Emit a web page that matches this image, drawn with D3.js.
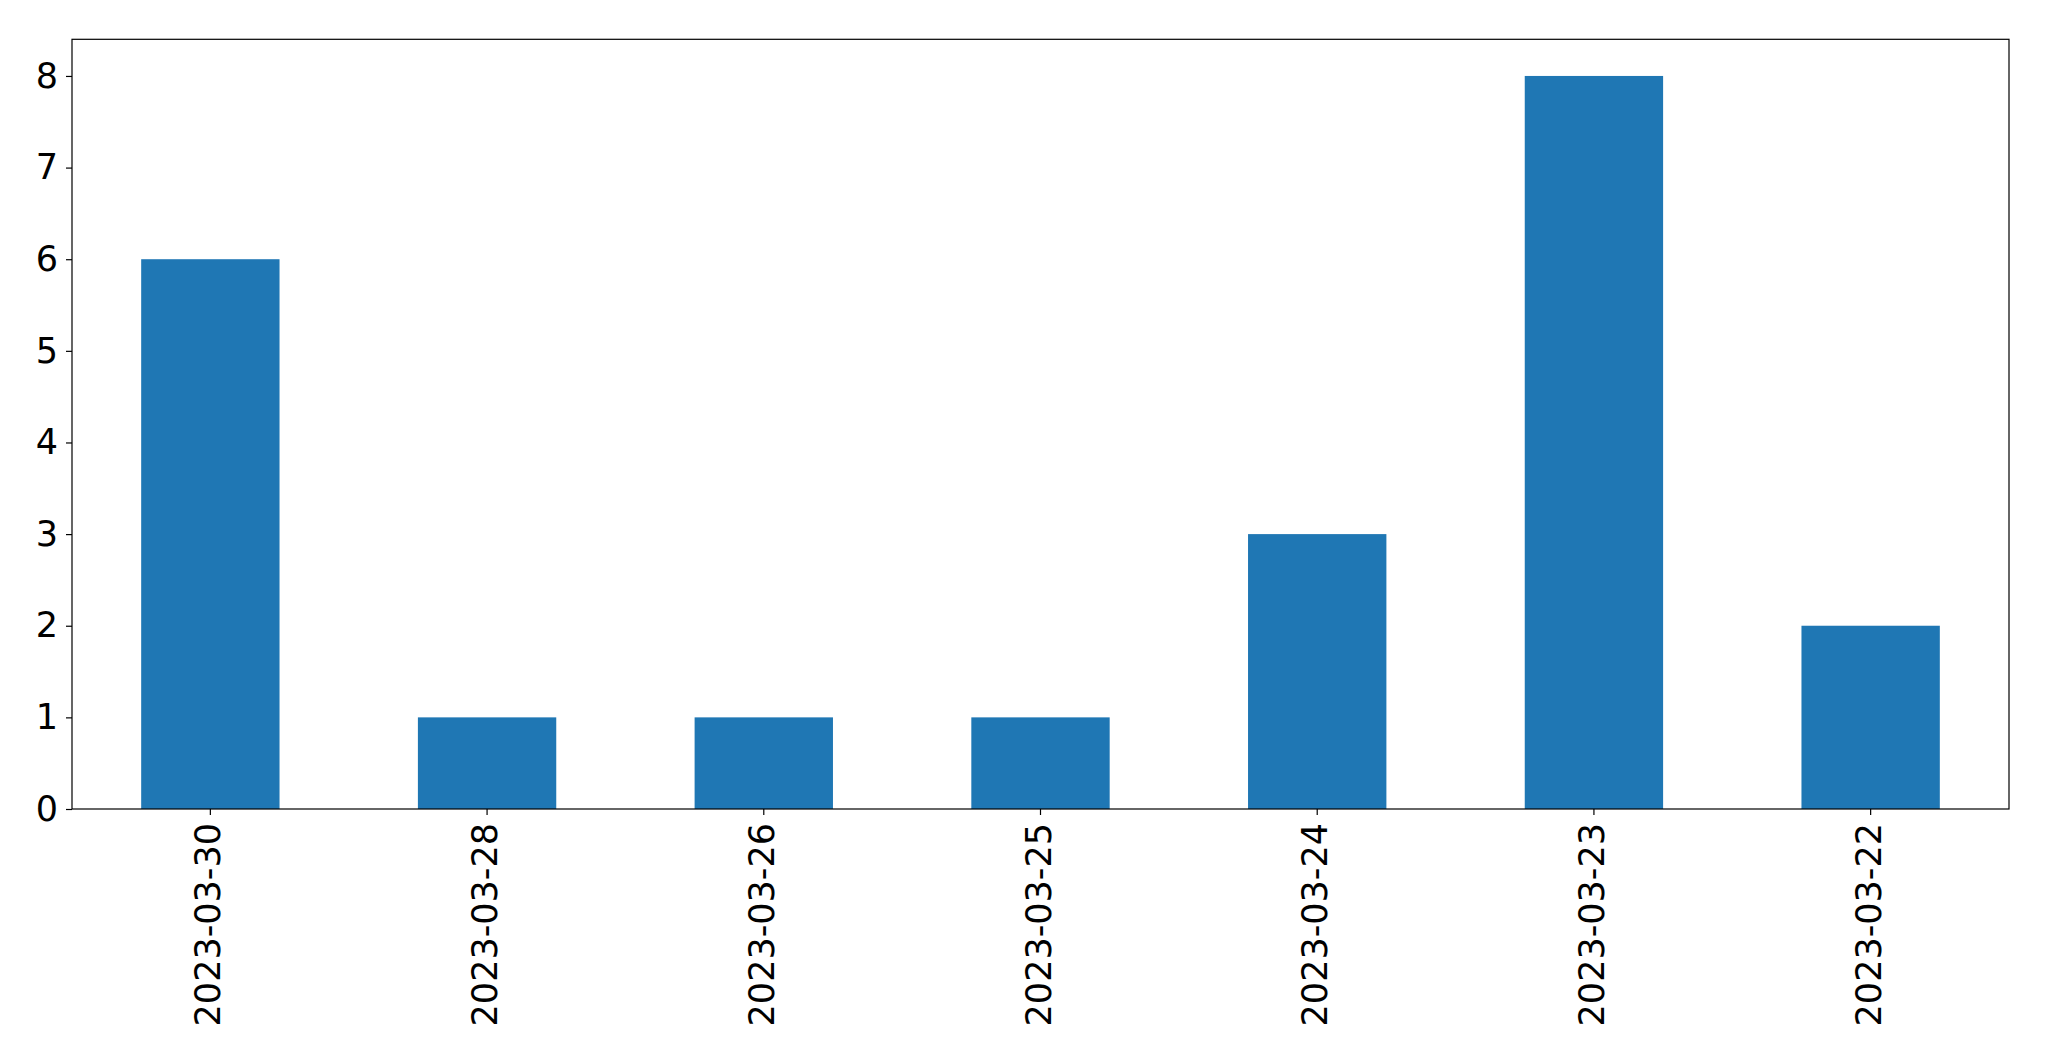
<!DOCTYPE html>
<html><head><meta charset="utf-8">
<script src="https://cdn.jsdelivr.net/npm/d3@7"></script>
<style>body{margin:0;background:#fff}svg{display:block}</style>
</head><body>
<script>
const categories = ["2023-03-30","2023-03-28","2023-03-26","2023-03-25","2023-03-24","2023-03-23","2023-03-22"];
const values = [6, 1, 1, 1, 3, 8, 2];
const yTicks = [0,1,2,3,4,5,6,7,8];

const W = 2049, H = 1061;
const m = {left: 72, right: 2009, top: 39.3, bottom: 809};
const svg = d3.select("body").append("svg").attr("width", W).attr("height", H);

const x = d3.scaleBand().domain(categories).range([m.left, m.right]).paddingInner(0.5).paddingOuter(0.25);
const y = d3.scaleLinear().domain([0, 8.4]).range([m.bottom, m.top]);

svg.append("g").selectAll("rect").data(values).join("rect")
  .attr("x", (d,i) => x(categories[i]))
  .attr("width", x.bandwidth())
  .attr("y", d => y(d))
  .attr("height", d => y(0) - y(d))
  .attr("fill", "#1f77b4");

const font = "DejaVu Sans";
const yAxis = svg.append("g").attr("transform", `translate(${m.left},0)`)
  .call(d3.axisLeft(y).tickValues(yTicks).tickSize(6).tickPadding(8).tickFormat(d3.format("d")));
yAxis.select(".domain").remove();
yAxis.selectAll("text").attr("font-family", font).attr("font-size", 35).attr("fill", "#000");
yAxis.selectAll("line").attr("stroke", "#000").attr("stroke-width", 1.2);

const xAxis = svg.append("g").attr("transform", `translate(0,${m.bottom})`)
  .call(d3.axisBottom(x).tickSize(6).tickPadding(0));
xAxis.select(".domain").remove();
xAxis.selectAll("line").attr("stroke", "#000").attr("stroke-width", 1.2);
xAxis.selectAll("text")
  .attr("font-family", font).attr("font-size", 35).attr("fill", "#000")
  .attr("text-anchor", "end")
  .attr("dy", null).attr("y", null)
  .attr("transform", "translate(-2,14) rotate(-90)")
  .attr("dominant-baseline", "central");

svg.append("rect").attr("x", m.left).attr("y", m.top)
  .attr("width", m.right - m.left).attr("height", m.bottom - m.top)
  .attr("fill", "none").attr("stroke", "#000").attr("stroke-width", 1.2);
</script>
</body></html>
